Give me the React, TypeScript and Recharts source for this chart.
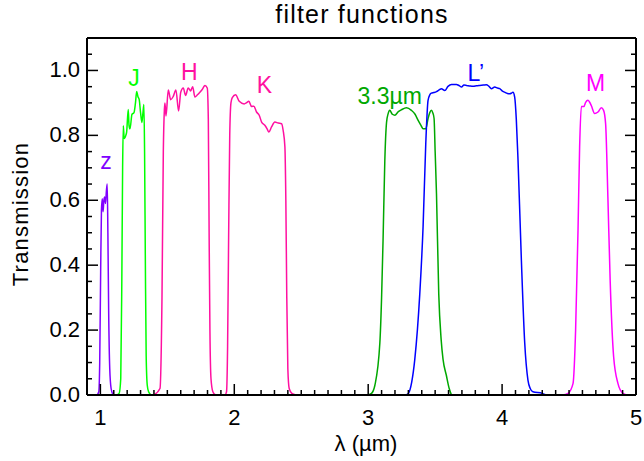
import { LineChart, Line, XAxis, YAxis, ReferenceDot } from "recharts";

type Pt = { w: number; t: number };

const toPts = (rows: number[][]): Pt[] => rows.map(([w, t]) => ({ w, t }));

// transmission curves: [wavelength um, transmission]
const zBand = toPts([
  [0.975, 0], [0.988, 0.01], [0.995, 0.1], [1.002, 0.38], [1.008, 0.57], [1.014, 0.605],
  [1.02, 0.565], [1.026, 0.6], [1.032, 0.61], [1.038, 0.59], [1.045, 0.63], [1.051, 0.65],
  [1.056, 0.5], [1.062, 0.25], [1.07, 0.08], [1.08, 0.02], [1.095, 0],
]);

const jBand = toPts([
  [1.12, 0], [1.14, 0.005], [1.152, 0.05], [1.16, 0.35], [1.166, 0.7], [1.171, 0.83],
  [1.178, 0.79], [1.19, 0.8], [1.196, 0.81], [1.208, 0.88], [1.214, 0.83], [1.221, 0.82],
  [1.236, 0.865], [1.251, 0.87], [1.262, 0.9], [1.271, 0.935], [1.28, 0.92], [1.29, 0.91],
  [1.3, 0.87], [1.31, 0.84], [1.318, 0.87], [1.325, 0.895], [1.33, 0.75], [1.336, 0.4],
  [1.342, 0.12], [1.35, 0.03], [1.36, 0.01], [1.38, 0],
]);

const hBand = toPts([
  [1.4, 0], [1.445, 0.02], [1.46, 0.3], [1.47, 0.75], [1.478, 0.88], [1.482, 0.9],
  [1.49, 0.86], [1.507, 0.94], [1.525, 0.91], [1.544, 0.92], [1.564, 0.94], [1.584, 0.875],
  [1.6, 0.933], [1.619, 0.946], [1.636, 0.923], [1.656, 0.946], [1.674, 0.937], [1.689, 0.95],
  [1.706, 0.918], [1.725, 0.925], [1.743, 0.933], [1.763, 0.943], [1.781, 0.954], [1.798, 0.946],
  [1.806, 0.85], [1.812, 0.5], [1.818, 0.2], [1.826, 0.05], [1.84, 0.01], [1.86, 0],
]);

const kBand = toPts([
  [1.86, 0], [1.93, 0], [1.942, 0.01], [1.95, 0.15], [1.958, 0.5], [1.966, 0.8], [1.975, 0.9],
  [1.985, 0.916], [2.01, 0.925], [2.037, 0.905], [2.074, 0.897], [2.09, 0.9], [2.109, 0.905],
  [2.129, 0.889], [2.146, 0.89], [2.166, 0.872], [2.186, 0.862], [2.204, 0.841], [2.228, 0.831],
  [2.245, 0.82], [2.258, 0.81], [2.278, 0.826], [2.303, 0.841], [2.328, 0.838], [2.353, 0.836],
  [2.365, 0.815], [2.378, 0.764], [2.385, 0.6], [2.392, 0.3], [2.4, 0.08], [2.41, 0.02],
  [2.43, 0.005], [2.46, 0],
]);

const pahBand = toPts([
  [3.0, 0], [3.025, 0.005], [3.05, 0.03], [3.087, 0.16], [3.1, 0.3], [3.111, 0.477],
  [3.124, 0.72], [3.137, 0.84], [3.149, 0.867], [3.161, 0.877], [3.18, 0.865], [3.199, 0.862],
  [3.225, 0.873], [3.249, 0.879], [3.286, 0.885], [3.323, 0.877], [3.35, 0.865], [3.373, 0.846],
  [3.395, 0.83], [3.41, 0.82], [3.43, 0.82], [3.447, 0.852], [3.46, 0.87], [3.472, 0.877],
  [3.482, 0.87], [3.492, 0.852], [3.5, 0.75], [3.51, 0.62], [3.527, 0.31], [3.545, 0.17],
  [3.559, 0.11], [3.584, 0.06], [3.605, 0.02], [3.622, 0],
]);

const lBand = toPts([
  [3.28, 0], [3.3, 0.005], [3.325, 0.04], [3.348, 0.11], [3.385, 0.31], [3.41, 0.52],
  [3.43, 0.775], [3.447, 0.908], [3.46, 0.925], [3.472, 0.93], [3.49, 0.932], [3.51, 0.935],
  [3.53, 0.94], [3.547, 0.944], [3.572, 0.938], [3.596, 0.951], [3.622, 0.957], [3.659, 0.957],
  [3.68, 0.953], [3.697, 0.949], [3.715, 0.955], [3.734, 0.954], [3.76, 0.952], [3.783, 0.951],
  [3.81, 0.953], [3.833, 0.954], [3.86, 0.955], [3.883, 0.956], [3.9, 0.952], [3.92, 0.944],
  [3.945, 0.949], [3.965, 0.946], [3.982, 0.944], [4.0, 0.937], [4.019, 0.933], [4.04, 0.929],
  [4.057, 0.928], [4.07, 0.93], [4.081, 0.933], [4.094, 0.918], [4.106, 0.85], [4.119, 0.723],
  [4.144, 0.415], [4.169, 0.16], [4.193, 0.046], [4.21, 0.02], [4.23, 0.01], [4.3, 0.005],
  [4.33, 0],
]);

const mBand = toPts([
  [4.45, 0], [4.492, 0.005], [4.53, 0.036], [4.549, 0.2], [4.567, 0.508], [4.579, 0.764],
  [4.592, 0.889], [4.611, 0.889], [4.624, 0.902], [4.641, 0.908], [4.654, 0.902], [4.666, 0.892],
  [4.691, 0.867], [4.716, 0.872], [4.741, 0.885], [4.758, 0.877], [4.773, 0.836], [4.79, 0.61],
  [4.807, 0.354], [4.833, 0.118], [4.865, 0.036], [4.902, 0.005], [4.93, 0],
]);

// band name labels: [x, y, text, color]
const bandLabels: [number, number, string, string][] = [
  [1.042, 0.72, "z", "#8000ff"],
  [1.251, 0.977, "J", "#00ff00"],
  [1.665, 0.997, "H", "#ff10a0"],
  [2.225, 0.955, "K", "#ff10a0"],
  [3.161, 0.923, "3.3\u00b5m", "#00a800"],
  [3.803, 0.994, "L\u2019", "#0000ff"],
  [4.699, 0.963, "M", "#ff00ff"],
];

const xMajor = [1, 2, 3, 4, 5];
const yMajor = [0, 0.2, 0.4, 0.6, 0.8, 1.0];
const xTicks = Array.from({ length: 42 }, (_, i) => +(0.9 + i * 0.1).toFixed(1));
const yTicks = Array.from({ length: 23 }, (_, i) => +(i * 0.05).toFixed(2));

const FONT = "'Liberation Sans', Arial, Helvetica, sans-serif";

const isMajor = (list: number[], v: number) => list.some((m) => Math.abs(m - v) < 1e-6);

const BottomTick = (props: any) => {
  const { x, y, payload } = props;
  const major = isMajor(xMajor, payload.value);
  return (
    <g>
      <line x1={x} x2={x} y1={y} y2={y - (major ? 11 : 5)} stroke="#000" strokeWidth={1.5} />
      {major && (
        <text x={x} y={y + 30} textAnchor="middle" fontSize={22} fontFamily={FONT} fill="#000">
          {payload.value}
        </text>
      )}
    </g>
  );
};

const TopTick = (props: any) => {
  const { x, y, payload } = props;
  const major = isMajor(xMajor, payload.value);
  return <line x1={x} x2={x} y1={y} y2={y + (major ? 11 : 5)} stroke="#000" strokeWidth={1.5} />;
};

const LeftTick = (props: any) => {
  const { x, y, payload } = props;
  const major = isMajor(yMajor, payload.value);
  return (
    <g>
      <line x1={x} x2={x + (major ? 11 : 5)} y1={y} y2={y} stroke="#000" strokeWidth={1.5} />
      {major && (
        <text x={x - 7} y={y + 7} textAnchor="end" fontSize={22} fontFamily={FONT} fill="#000">
          {payload.value.toFixed(1)}
        </text>
      )}
    </g>
  );
};

const RightTick = (props: any) => {
  const { x, y, payload } = props;
  const major = isMajor(yMajor, payload.value);
  return <line x1={x} x2={x - (major ? 11 : 5)} y1={y} y2={y} stroke="#000" strokeWidth={1.5} />;
};

const series: [Pt[], string][] = [
  [zBand, "#8000ff"],
  [jBand, "#00ff00"],
  [hBand, "#ff10a0"],
  [kBand, "#ff10a0"],
  [pahBand, "#00a800"],
  [lBand, "#0000ff"],
  [mBand, "#ff00ff"],
];

export default function App() {
  return (
    <div style={{ position: "absolute", left: 0, top: 0, background: "#fff" }}>
      <LineChart width={644} height={461} margin={{ top: 37, right: 7, bottom: 0, left: 0 }}>
        <XAxis
          xAxisId="b"
          dataKey="w"
          type="number"
          domain={[0.9, 5]}
          allowDataOverflow
          ticks={xTicks}
          interval={0}
          tickSize={0}
          tickMargin={0}
          tickLine={false}
          tick={<BottomTick />}
          height={66}
          axisLine={{ stroke: "#000", strokeWidth: 2 }}
        />
        <XAxis
          xAxisId="t"
          orientation="top"
          type="number"
          domain={[0.9, 5]}
          allowDataOverflow
          ticks={xTicks}
          interval={0}
          tickSize={0}
          tickMargin={0}
          tickLine={false}
          tick={<TopTick />}
          height={1}
          axisLine={{ stroke: "#000", strokeWidth: 2 }}
        />
        <YAxis
          yAxisId="l"
          type="number"
          domain={[0, 1.1]}
          allowDataOverflow
          ticks={yTicks}
          interval={0}
          tickSize={0}
          tickMargin={0}
          tickLine={false}
          tick={<LeftTick />}
          width={87}
          axisLine={{ stroke: "#000", strokeWidth: 2 }}
        />
        <YAxis
          yAxisId="r"
          orientation="right"
          type="number"
          domain={[0, 1.1]}
          allowDataOverflow
          ticks={yTicks}
          interval={0}
          tickSize={0}
          tickMargin={0}
          tickLine={false}
          tick={<RightTick />}
          width={1}
          axisLine={{ stroke: "#000", strokeWidth: 2 }}
        />
        {series.map(([d, c], i) => (
          <Line
            key={i}
            xAxisId="b"
            yAxisId="l"
            data={d}
            dataKey="t"
            type="monotone"
            stroke={c}
            strokeWidth={1.5}
            dot={false}
            isAnimationActive={false}
          />
        ))}
        {bandLabels.map(([x, y, txt, c]) => (
          <ReferenceDot
            key={txt}
            xAxisId="b"
            yAxisId="l"
            x={x}
            y={y}
            r={0}
            stroke="none"
            fill="none"
            label={{ value: txt, position: "center", fill: c, fontSize: 23, fontFamily: FONT }}
          />
        ))}
        <text x={362} y={23} textAnchor="middle" fontSize={25} letterSpacing={1.2} fontFamily={FONT} fill="#000">
          filter functions
        </text>
        <text
          x={28}
          y={214}
          transform="rotate(-90 28 214)"
          textAnchor="middle"
          fontSize={22}
          letterSpacing={1.2}
          fontFamily={FONT}
          fill="#000"
        >
          Transmission
        </text>
        <text x={366} y={451} textAnchor="middle" fontSize={22} fontFamily={FONT} fill="#000">
          {"\u03bb (\u00b5m)"}
        </text>
      </LineChart>
    </div>
  );
}
